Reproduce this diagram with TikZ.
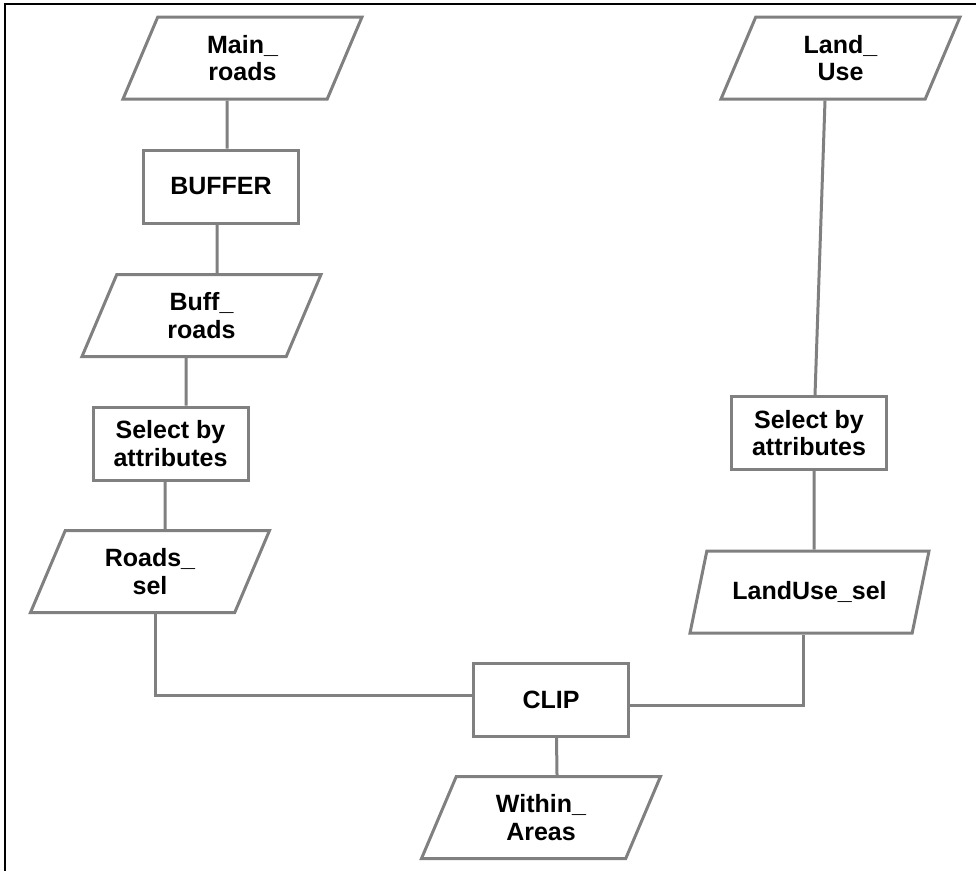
\documentclass[tikz,border=0pt]{standalone}
\usepackage{fontspec}
\setmainfont{Liberation Sans}
\usepackage{tikz}
\usetikzlibrary{shapes,shapes.geometric}
\usetikzlibrary{calc}
\definecolor{flowgray}{RGB}{128,128,128}
\tikzset{
	datanode/.style={trapezium, trapezium left angle=54, trapezium right angle=126, trapezium stretches body, draw=flowgray, line width=3pt, minimum width=239pt, minimum height=82pt, inner sep=1pt, align=center, font=\bfseries\fontsize{25}{27.5}\selectfont},
	toolnode/.style={rectangle, draw=flowgray, line width=3pt, minimum width=155pt, minimum height=73pt, inner sep=1pt, align=center, font=\bfseries\fontsize{25}{27.5}\selectfont},
	link/.style={draw=flowgray, line width=3pt}
}

\begin{document}
\begin{tikzpicture}[x=1pt,y=-1pt]
			\useasboundingbox (0,0) rectangle (976,871);
			\draw [black,line width=2pt] (976,4)-- (5,4)-- (5,871);
			
			\node[datanode] (mainroads) at (242.5,58) {Main\_\\roads};
			\node[toolnode] (buffer) at (221,186.5) {BUFFER};
			\node[datanode] (buffroads) at (201.5,315.5) {Buff\_\\roads};
			\node[toolnode] (selectL) at (170.5,443.5) {Select by\\attributes};
			\node[datanode] (roadssel) at (150,571.5) {Roads\_\\sel};
			\node[toolnode] (clip) at (551,699.5) {CLIP};
			\node[datanode] (within) at (541,817.5) {Within\_\\Areas};
			\node[datanode] (landuse) at (840.5,58) {Land\_\\Use};
			\node[toolnode] (selectR) at (809,433) {Select by\\attributes};
			\node[datanode] (landusesel) at (809.5,592) {LandUse\_sel};
			
			\draw[link] ($(mainroads.south)+(-15.5,0)$) -- ($(buffer.north)+(6,0)$);
			\draw[link] ($(buffer.south)+(-4,0)$) -- ($(buffroads.north)+(15.5,0)$);
			\draw[link] ($(buffroads.south)+(-15.5,0)$) -- ($(selectL.north)+(15.5,0)$);
			\draw[link] ($(selectL.south)+(-5.5,0)$) -- ($(roadssel.north)+(15,0)$);
			\draw[link] ($(roadssel.south)+(5,0)$) |- ($(clip.west)+(0,-4.5)$);
			\draw[link] ($(landuse.south)+(-15.5,0)$) -- ($(selectR.north)+(6,0)$);
			\draw[link] ($(selectR.south)+(5,0)$) -- ($(landusesel.north)+(4.5,0)$);
			\draw[link] ($(landusesel.south)+(-6.5,0)$) |- ($(clip.east)+(0,5.5)$);
			\draw[link] ($(clip.south)+(5.5,0)$) -- ($(within.north)+(16,0)$);
		\end{tikzpicture}
\end{document}
